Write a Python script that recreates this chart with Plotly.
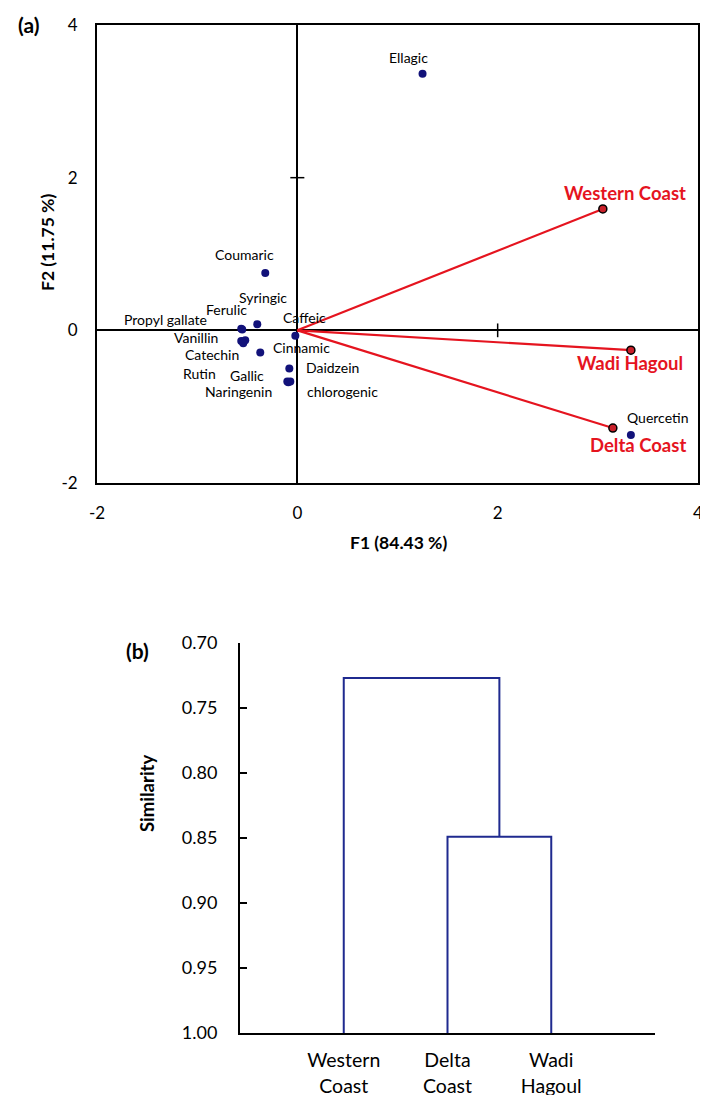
import plotly.graph_objects as go

# ---------------- Panel (a) data: PCA biplot ----------------
compounds = ["Ellagic", "Coumaric", "Syringic", "Ferulic", "Propyl gallate", "Vanillin",
             "Catechin", "Rutin", "Cinnamic", "Caffeic", "Gallic", "Naringenin",
             "Daidzein", "chlorogenic", "Quercetin"]
f1_scores = [1.25, -0.32, -0.40, -0.55, -0.56, -0.56, -0.52, -0.54, -0.37, -0.02,
             -0.10, -0.09, -0.08, -0.07, 3.33]
f2_scores = [3.36, 0.75, 0.08, 0.01, 0.02, -0.14, -0.13, -0.17, -0.29, -0.07,
             -0.67, -0.68, -0.50, -0.67, -1.37]
# label offsets in pixels (style)
label_dx = [-14, -21, 6, -16, -76, -45, -33, -44, 41, 9, -40, -50, 43, 52, 27]
label_dy = [16, 19, 27, 20, 9, 4, -14, -30, 5, 18, 6, -9, 1, -10, 17]

sites = ["Western Coast", "Wadi Hagoul", "Delta Coast"]
f1_load = [3.05, 3.33, 3.15]
f2_load = [1.59, -0.26, -1.28]
site_dx = [22, -1, 25]
site_dy = [16, -13, -17]

ax_range = [-2, 4]
ax_ticks = [-2, 0, 2, 4]
ax_ticktext = ["-2", "0", "2", "4"]

# ---------------- Panel (b) data: dendrogram ----------------
leaves = ["Western<br>Coast", "Delta<br>Coast", "Wadi<br>Hagoul"]
leaf_pos = [1, 2, 3]
merge_delta_wadi = 0.849
merge_all = 0.727
sim_ticks = [0.70, 0.75, 0.80, 0.85, 0.90, 0.95, 1.00]

FONT = "Lato"
BLUE = "#12127a"
RED = "#e5141f"
DEND = "#1f2a8f"

# page body has an 8px margin: figure is laid out in page pixels shifted by it
W, H, OFF = 700, 1087, 8


def px(xp):
    return (xp - OFF) / W


def py(yp):
    return 1 - (yp - OFF) / H


fig = go.Figure()

# PCA loading vectors (lines from origin)
for i, s in enumerate(sites):
    fig.add_trace(go.Scatter(x=[0, f1_load[i]], y=[0, f2_load[i]], mode="lines",
                             line=dict(color=RED, width=2.2), showlegend=False,
                             hoverinfo="skip", xaxis="x", yaxis="y"))
fig.add_trace(go.Scatter(x=f1_load, y=f2_load, mode="markers", text=sites,
                         marker=dict(color="#c9202a", size=8,
                                     line=dict(color="black", width=1.5)),
                         showlegend=False, xaxis="x", yaxis="y"))
# compound scores
fig.add_trace(go.Scatter(x=f1_scores, y=f2_scores, mode="markers", text=compounds,
                         marker=dict(color=BLUE, size=8), showlegend=False,
                         xaxis="x", yaxis="y"))

annotations = []
for i, c in enumerate(compounds):
    annotations.append(dict(x=f1_scores[i], y=f2_scores[i], xref="x", yref="y",
                            text=c, showarrow=False, xshift=label_dx[i], yshift=label_dy[i],
                            font=dict(family=FONT, size=14, color="black")))
for i, s in enumerate(sites):
    annotations.append(dict(x=f1_load[i], y=f2_load[i], xref="x", yref="y",
                            text="<b>" + s + "</b>", showarrow=False,
                            xshift=site_dx[i], yshift=site_dy[i],
                            font=dict(family=FONT, size=18.5, color=RED)))

# small cross ticks on the zero axes (interior ticks only)
shapes = []
for t in ax_ticks:
    if t == 0 or t <= ax_range[0] or t >= ax_range[1]:
        continue
    shapes.append(dict(type="line", xref="x", yref="y", x0=t, x1=t, y0=-0.09, y1=0.09,
                       line=dict(color="black", width=1.5)))
    shapes.append(dict(type="line", xref="x", yref="y", x0=-0.07, x1=0.07, y0=t, y1=t,
                       line=dict(color="black", width=1.5)))

# ---------------- Dendrogram ----------------
node_x = (leaf_pos[1] + leaf_pos[2]) / 2
fig.add_trace(go.Scatter(x=[leaf_pos[1], leaf_pos[1], leaf_pos[2], leaf_pos[2]],
                         y=[1.0, merge_delta_wadi, merge_delta_wadi, 1.0],
                         mode="lines", line=dict(color=DEND, width=2), showlegend=False,
                         xaxis="x2", yaxis="y2"))
fig.add_trace(go.Scatter(x=[leaf_pos[0], leaf_pos[0], node_x, node_x],
                         y=[1.0, merge_all, merge_all, merge_delta_wadi],
                         mode="lines", line=dict(color=DEND, width=2), showlegend=False,
                         xaxis="x2", yaxis="y2"))

# panel labels and axis titles
titles = [
    dict(x=px(28), y=py(25), text="<b>(a)</b>", font=dict(size=21)),
    dict(x=px(137), y=py(650), text="<b>(b)</b>", font=dict(size=21)),
    dict(x=px(398), y=py(542), text="<b>F1 (84.43 %)</b>", font=dict(size=17.5)),
    dict(x=px(48), y=py(243), text="<b>F2 (11.75 %)</b>", font=dict(size=17.5),
         textangle=-90),
    dict(x=px(147), y=py(794), text="<b>Similarity</b>", font=dict(size=18.5),
         textangle=-90),
]
for a in titles:
    a.update(xref="paper", yref="paper", showarrow=False, xanchor="center",
             yanchor="middle")
    a["font"].update(family=FONT, color="black")
annotations += titles

fig.update_layout(
    width=W, height=H,
    margin=dict(l=0, r=0, t=0, b=0, autoexpand=False),
    paper_bgcolor="white", plot_bgcolor="white",
    font=dict(family=FONT, color="black"),
    showlegend=False,
    xaxis=dict(domain=[px(97), px(698)], range=ax_range, tickvals=ax_ticks,
               ticktext=ax_ticktext, automargin=False, ticklabeloverflow="allow",
               showgrid=False, zeroline=True, zerolinecolor="black", zerolinewidth=2,
               showline=True, mirror=True, linecolor="black", linewidth=2, ticks="",
               ticklabelstandoff=14, tickfont=dict(size=17), anchor="y"),
    yaxis=dict(domain=[py(483), py(25)], range=ax_range, tickvals=ax_ticks,
               ticktext=ax_ticktext, automargin=False, ticklabeloverflow="allow",
               showgrid=False, zeroline=True, zerolinecolor="black", zerolinewidth=2,
               showline=True, mirror=True, linecolor="black", linewidth=2, ticks="",
               ticklabelstandoff=14, tickfont=dict(size=17), anchor="x"),
    xaxis2=dict(domain=[px(240), px(655)], range=[0, 4], tickvals=leaf_pos,
                ticktext=leaves, automargin=False, showgrid=False, zeroline=False,
                showline=True, linecolor="black", linewidth=2, ticks="",
                ticklabelstandoff=9, tickfont=dict(size=19.5), anchor="y2"),
    yaxis2=dict(domain=[py(1033), py(643)], range=[1.0, 0.70],
                tickvals=sim_ticks, tickformat=".2f", automargin=False,
                showgrid=False, zeroline=False,
                showline=True, linecolor="black", linewidth=2, ticks="inside",
                ticklen=7, tickwidth=2, tickcolor="black", ticklabelstandoff=17,
                tickfont=dict(size=18), anchor="x2"),
    annotations=annotations,
    shapes=shapes,
)

fig.write_html("out.html")
